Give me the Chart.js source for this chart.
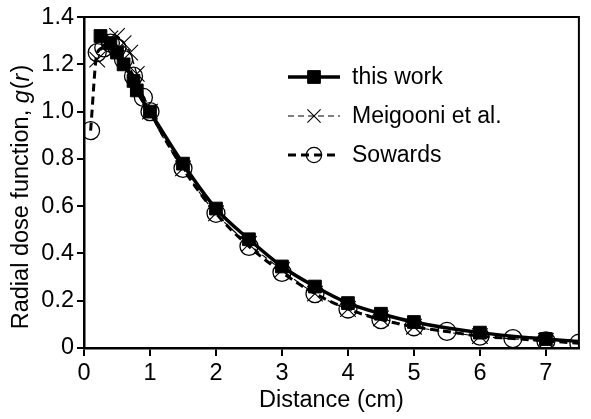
<!DOCTYPE html>
<html>
<head>
<meta charset="utf-8">
<script src="https://cdn.jsdelivr.net/npm/chart.js@4"></script>
<style>
  html, body { margin: 0; background: #fff; }
  #wrap { width: 591px; height: 419px; }
</style>
</head>
<body>
<div id="wrap"><canvas id="c"></canvas></div>
<script>
// radial dose function data
const workR = [0.25, 0.4, 0.5, 0.6, 0.75, 0.8, 1, 1.5, 2, 2.5, 3, 3.5, 4, 4.5, 5, 6, 7, 7.5];
const workG = [1.32, 1.29, 1.25, 1.20, 1.13, 1.09, 1.00, 0.78, 0.59, 0.46, 0.345, 0.26, 0.19, 0.145, 0.11, 0.065, 0.038, 0.028];

const meigR = [0.2, 0.3, 0.4, 0.5, 0.6, 0.7, 0.8, 1, 1.5, 2, 2.5, 3, 3.5, 4, 4.5, 5, 6, 7];
const meigG = [1.22, 1.28, 1.31, 1.32, 1.29, 1.25, 1.16, 1.00, 0.76, 0.57, 0.44, 0.33, 0.23, 0.165, 0.125, 0.09, 0.05, 0.03];

const sowR = [0.1, 0.2, 0.3, 0.4, 0.5, 0.6, 0.75, 0.9, 1, 1.5, 2, 2.5, 3, 3.5, 4, 4.5, 5, 5.5, 6, 6.5, 7, 7.5];
const sowG = [0.92, 1.25, 1.27, 1.29, 1.27, 1.22, 1.15, 1.06, 1.00, 0.76, 0.57, 0.43, 0.32, 0.23, 0.165, 0.12, 0.09, 0.07, 0.05, 0.04, 0.03, 0.02];

const xTicks = [0, 1, 2, 3, 4, 5, 6, 7];
const yTicks = [0, 0.2, 0.4, 0.6, 0.8, 1.0, 1.2, 1.4];

const legendNames = ["this work", "Meigooni et al.", "Sowards"];
const xTitle = "Distance (cm)";

const FONT = "Liberation Sans, Arial, sans-serif";

const pts = (rs, gs) => rs.map((r, i) => ({x: r, y: gs[i]}));

const datasets = [
  {
    label: legendNames[0], data: pts(workR, workG),
    borderColor: '#000', backgroundColor: '#000', borderWidth: 3.5,
    pointStyle: 'rect', pointRadius: ctx => (workR[ctx.dataIndex] > 7.2 ? 0 : 9),
    pointBorderWidth: 1, cubicInterpolationMode: 'monotone'
  },
  {
    label: legendNames[1], data: pts(meigR, meigG),
    borderColor: '#000', backgroundColor: '#000', borderWidth: 1.2, borderDash: [6, 4],
    pointStyle: 'crossRot', pointRadius: 11, pointBorderWidth: 1.1,
    cubicInterpolationMode: 'monotone'
  },
  {
    label: legendNames[2], data: pts(sowR, sowG),
    borderColor: '#000', backgroundColor: 'rgba(0,0,0,0)', borderWidth: 3, borderDash: [8, 5],
    pointStyle: 'circle', pointRadius: 9, pointBorderWidth: 1.3,
    cubicInterpolationMode: 'monotone'
  }
];

const frameAndLabels = {
  id: 'frameAndLabels',
  afterDraw(chart) {
    const ctx = chart.ctx;
    const a = chart.chartArea;
    ctx.save();
    // box round the plot
    ctx.strokeStyle = '#000';
    ctx.lineWidth = 2;
    ctx.beginPath();
    ctx.moveTo(a.left, a.top);
    ctx.lineTo(a.right, a.top);
    ctx.lineTo(a.right, a.bottom);
    ctx.stroke();

    // y title with italic g and r
    const parts = [["Radial dose function, ", ""], ["g", "italic "], ["(", ""], ["r", "italic "], [")", ""]];
    ctx.translate(22, 198);
    ctx.rotate(-Math.PI / 2);
    ctx.fillStyle = '#000';
    ctx.textBaseline = 'middle';
    let total = 0;
    parts.forEach(p => { ctx.font = p[1] + "23.5px " + FONT; total += ctx.measureText(p[0]).width; });
    let px = -total / 2;
    parts.forEach(p => {
      ctx.font = p[1] + "23.5px " + FONT;
      ctx.fillText(p[0], px, 0);
      px += ctx.measureText(p[0]).width + (p[1] ? 1 : 0);
    });
    ctx.restore();

    // legend
    ctx.save();
    const rows = [77, 116, 155];
    chart.data.datasets.forEach((ds, i) => {
      const y = rows[i];
      ctx.strokeStyle = '#000';
      ctx.lineWidth = ds.borderWidth;
      ctx.setLineDash(ds.borderDash || []);
      ctx.beginPath();
      ctx.moveTo(288, y);
      ctx.lineTo(340, y);
      ctx.stroke();
      ctx.setLineDash([]);
      ctx.fillStyle = ds.backgroundColor;
      ctx.lineWidth = ds.pointBorderWidth;
      Chart.helpers.drawPoint(ctx, {
        pointStyle: ds.pointStyle,
        radius: i === 0 ? 9 : ds.pointRadius * 0.85,
        borderWidth: ds.pointBorderWidth,
        rotation: 0
      }, 314, y);
      ctx.fillStyle = '#000';
      ctx.font = "23px " + FONT;
      ctx.textBaseline = 'middle';
      ctx.fillText(ds.label, 352, y + 1);
    });
    ctx.restore();
  }
};

new Chart(document.getElementById('c'), {
  type: 'line',
  data: {datasets},
  options: {
    responsive: true,
    maintainAspectRatio: false,
    animation: false,
    layout: {padding: {left: 0, right: 5, top: 17, bottom: 0}},
    plugins: {legend: {display: false}, tooltip: {enabled: false}},
    scales: {
      x: {
        type: 'linear', min: 0, max: 7.5,
        afterFit: s => { s.height = 71; },
        afterBuildTicks: s => { s.ticks = xTicks.map(v => ({value: v})); },
        ticks: {color: '#000', font: {family: FONT, size: 23.5}, padding: 3, maxRotation: 0},
        grid: {drawOnChartArea: false, drawTicks: true, tickLength: 8, color: '#000', lineWidth: 2},
        border: {color: '#000', width: 2.5},
        title: {display: true, text: xTitle, color: '#000', font: {family: FONT, size: 23.5}, padding: {top: 0, bottom: 4}}
      },
      y: {
        type: 'linear', min: 0, max: 1.4,
        afterFit: s => { s.width = 84; },
        afterBuildTicks: s => { s.ticks = yTicks.map(v => ({value: v})); },
        ticks: {
          color: '#000', font: {family: FONT, size: 23.5}, padding: 3,
          callback: v => (v === 0 ? '0' : v.toFixed(1))
        },
        grid: {drawOnChartArea: false, drawTicks: true, tickLength: 7, color: '#000', lineWidth: 2},
        border: {color: '#000', width: 2.5}
      }
    }
  },
  plugins: [frameAndLabels]
});
</script>
</body>
</html>
